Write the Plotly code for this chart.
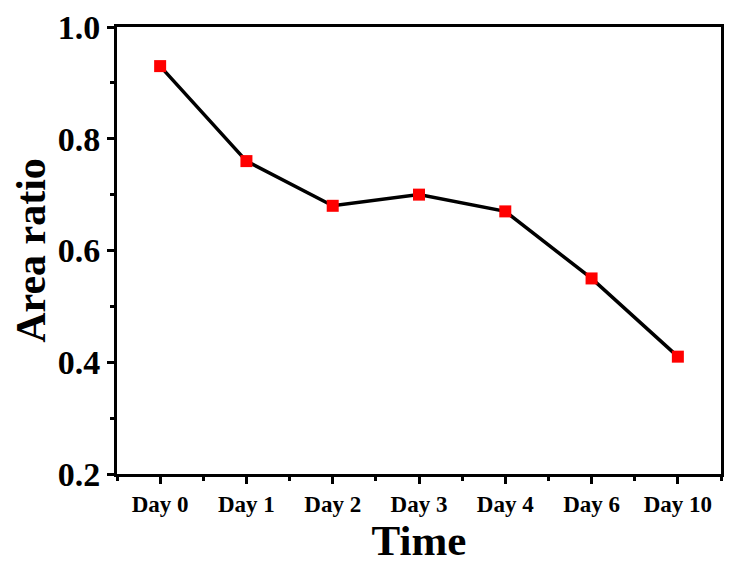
import plotly.graph_objects as go

categories = ["Day 0", "Day 1", "Day 2", "Day 3", "Day 4", "Day 6", "Day 10"]
area_ratio = [0.93, 0.76, 0.68, 0.70, 0.67, 0.55, 0.41]
y_ticks = [0.2, 0.4, 0.6, 0.8, 1.0]
y_tick_labels = ["0.2", "0.4", "0.6", "0.8", "1.0"]

xpos = list(range(len(categories)))

fig = go.Figure()
fig.add_trace(go.Scatter(
    x=xpos, y=area_ratio, mode="lines+markers",
    line=dict(color="black", width=3.5),
    marker=dict(symbol="square", size=12, color="#ff0000"),
    showlegend=False,
))

font_family = "Liberation Serif"
fig.update_layout(
    width=730, height=560,
    margin=dict(l=109, r=17, t=19, b=94, autoexpand=False),
    plot_bgcolor="white", paper_bgcolor="white",
    font=dict(family=font_family, color="black"),
)
fig.update_xaxes(
    range=[-0.5, len(categories) - 0.5],
    tickmode="array", tickvals=xpos, ticktext=[f"<b>{c}</b>" for c in categories],
    tickfont=dict(size=23, family=font_family),
    ticks="outside", ticklen=7, tickwidth=2.5, tickcolor="black",
    minor=dict(tickmode="linear", tick0=-0.5, dtick=1, ticks="outside", ticklen=4, tickwidth=2.5, tickcolor="black"),
    showline=True, linewidth=3, linecolor="black", mirror=True,
    showgrid=False, zeroline=False, automargin=False,
    title=dict(text="<b>Time</b>", font=dict(size=43, family=font_family), standoff=3),
)
fig.update_yaxes(
    range=[0.2, 1.0],
    tickmode="array", tickvals=y_ticks, ticktext=[f"<b>{t}</b>" for t in y_tick_labels],
    tickfont=dict(size=34, family=font_family),
    ticks="outside", ticklen=7, tickwidth=2.5, tickcolor="black",
    minor=dict(tickmode="linear", tick0=0.3, dtick=0.2, ticks="outside", ticklen=4, tickwidth=2.5, tickcolor="black"),
    showline=True, linewidth=3, linecolor="black", mirror=True,
    showgrid=False, zeroline=False, automargin=False,
    title=dict(text="<b>Area ratio</b>", font=dict(size=42, family=font_family), standoff=8),
)

fig.write_html("out.html")
